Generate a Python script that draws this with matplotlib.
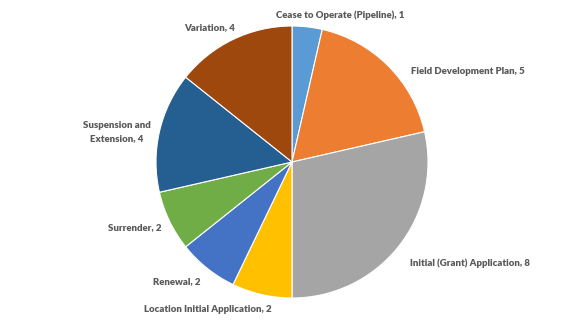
import matplotlib.pyplot as plt

categories = ["Cease to Operate (Pipeline)", "Field Development Plan",
              "Initial (Grant) Application", "Location Initial Application",
              "Renewal", "Surrender", "Suspension and\nExtension", "Variation"]
values = [1, 5, 8, 2, 2, 2, 4, 4]
colors = ["#5B9BD5", "#ED7D31", "#A5A5A5", "#FFC000",
          "#4472C4", "#70AD47", "#255E91", "#9E480E"]

W, H = 585, 326
fig = plt.figure(figsize=(W / 100, H / 100), dpi=100)
ax = fig.add_axes([0, 0, 1, 1])
ax.set_xlim(0, W)
ax.set_ylim(0, H)
ax.set_aspect("equal")
ax.axis("off")

cx, cy, r = 292, H - 162, 136
ax.pie(values, colors=colors, startangle=90, counterclock=False,
       center=(cx, cy), radius=r,
       wedgeprops=dict(edgecolor="white", linewidth=0.8))
ax.set_xlim(0, W)
ax.set_ylim(0, H)

# label anchor points (pixel coords from top-left) and alignment
label_pos = [(276, 15, "left"), (411, 71, "left"), (410, 263, "left"),
             (208, 310, "center"), (177, 282, "center"), (135, 228, "center"),
             (117, 132, "center"), (210, 28, "center")]
for name, v, (px, py, ha) in zip(categories, values, label_pos):
    ax.text(px, H - py, f"{name}, {v}", ha=ha, va="center",
            fontsize=6.9, fontweight="heavy", color="#595959",
            family="Lato", linespacing=1.6, multialignment="center")

fig.savefig("out.png", dpi=100)
